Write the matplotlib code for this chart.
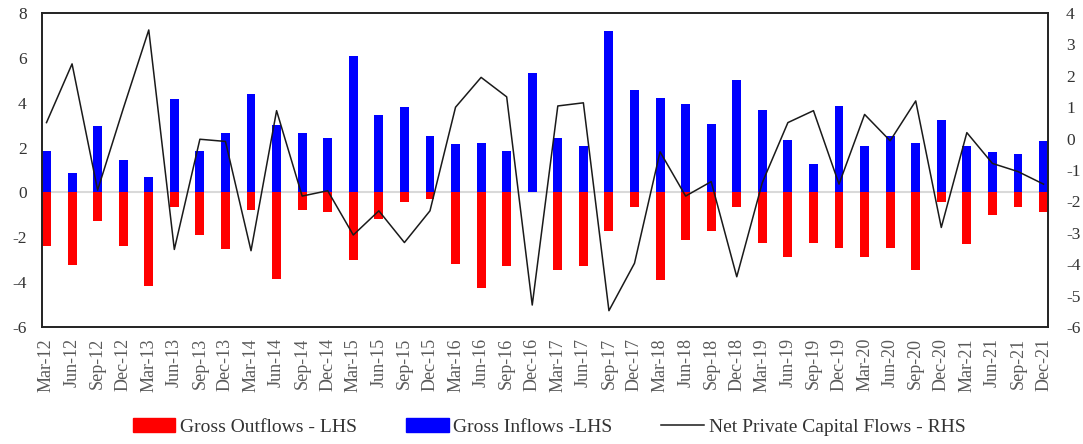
import matplotlib.pyplot as plt
import matplotlib.lines as mlines
import matplotlib.patches as mpatches
import numpy as np

plt.rcParams['font.family'] = ['Liberation Serif', 'DejaVu Serif']
plt.rcParams['axes.unicode_minus'] = False

quarters = ['Mar-12', 'Jun-12', 'Sep-12', 'Dec-12', 'Mar-13', 'Jun-13', 'Sep-13', 'Dec-13',
            'Mar-14', 'Jun-14', 'Sep-14', 'Dec-14', 'Mar-15', 'Jun-15', 'Sep-15', 'Dec-15',
            'Mar-16', 'Jun-16', 'Sep-16', 'Dec-16', 'Mar-17', 'Jun-17', 'Sep-17', 'Dec-17',
            'Mar-18', 'Jun-18', 'Sep-18', 'Dec-18', 'Mar-19', 'Jun-19', 'Sep-19', 'Dec-19',
            'Mar-20', 'Jun-20', 'Sep-20', 'Dec-20', 'Mar-21', 'Jun-21', 'Sep-21', 'Dec-21']

gross_inflows = [1.84, 0.86, 2.95, 1.43, 0.71, 4.17, 1.84, 2.65, 4.38, 3.0,
                 2.65, 2.44, 6.1, 3.44, 3.81, 2.5, 2.14, 2.2, 1.84, 5.33,
                 2.44, 2.07, 7.2, 4.58, 4.23, 3.93, 3.07, 5.03, 3.66, 2.35,
                 1.28, 3.87, 2.07, 2.5, 2.22, 3.21, 2.07, 1.79, 1.73, 2.29]

gross_outflows = [-2.38, -3.24, -1.28, -2.38, -4.17, -0.65, -1.88, -2.51, -0.8, -3.88,
                  -0.8, -0.86, -3.0, -1.18, -0.43, -0.28, -3.18, -4.26, -3.26, 0.0,
                  -3.45, -3.26, -1.73, -0.66, -3.9, -2.14, -1.73, -0.66, -2.25, -2.89,
                  -2.25, -2.47, -2.89, -2.47, -3.45, -0.43, -2.32, -0.99, -0.66, -0.85]

net_flows = [0.51, 2.38, -1.64, 0.95, 3.46, -3.53, -0.02, -0.09, -3.57, 0.89,
             -1.83, -1.66, -3.07, -2.3, -3.31, -2.3, 1.0, 1.95, 1.33, -5.3,
             1.04, 1.14, -5.48, -3.97, -0.42, -1.83, -1.37, -4.4, -1.4, 0.51,
             0.89, -1.45, 0.77, -0.07, 1.2, -2.83, 0.19, -0.79, -1.05, -1.45]

x = np.arange(len(quarters))
w = 0.35
tick_color = '#333333'

fig = plt.figure(figsize=(10.83, 4.44), dpi=100)
ax = fig.add_axes([0.0388, 0.2635, 0.9289, 0.7072])
ax.bar(x, gross_outflows, width=w, color='#ff0000', zorder=2)
ax.bar(x, gross_inflows, width=w, color='#0000ff', zorder=2)
ax.axhline(0, color='#d9d9d9', lw=1.5, zorder=1)
ax.set_ylim(-6, 8)
ax.set_yticks(range(-6, 9, 2))
ax.set_xlim(-w / 2, len(x) - 1 + w / 2)
ax.set_xticks(x)
ax.set_xticklabels(quarters, rotation=90, fontsize=13, color='#595959')
ax.tick_params(axis='x', length=0, pad=8)
ax.tick_params(axis='y', length=0, labelsize=12.5, labelcolor=tick_color, pad=11)

ax2 = ax.twinx()
ax2.plot(x, net_flows, color='#1a1a1a', lw=1.1, zorder=3)
ax2.set_ylim(-6, 4)
ax2.set_yticks(range(-6, 5))
ax2.tick_params(axis='y', length=0, labelsize=12.5, labelcolor=tick_color, pad=13)

for a in (ax, ax2):
    for s in a.spines.values():
        s.set_color('#222222')
        s.set_linewidth(1.2)

handles = [mpatches.Patch(color='#ff0000', label='Gross Outflows - LHS'),
           mpatches.Patch(color='#0000ff', label='Gross Inflows -LHS'),
           mlines.Line2D([], [], color='#1a1a1a', lw=1.1, label='Net Private Capital Flows - RHS')]
fig.legend(handles=handles, loc='center', bbox_to_anchor=(0.507, 0.038), ncol=3,
           frameon=False, fontsize=14, handlelength=2.2, handleheight=0.7,
           columnspacing=2.5, handletextpad=0.25, labelcolor=tick_color)

fig.savefig('out.png', dpi=100)
